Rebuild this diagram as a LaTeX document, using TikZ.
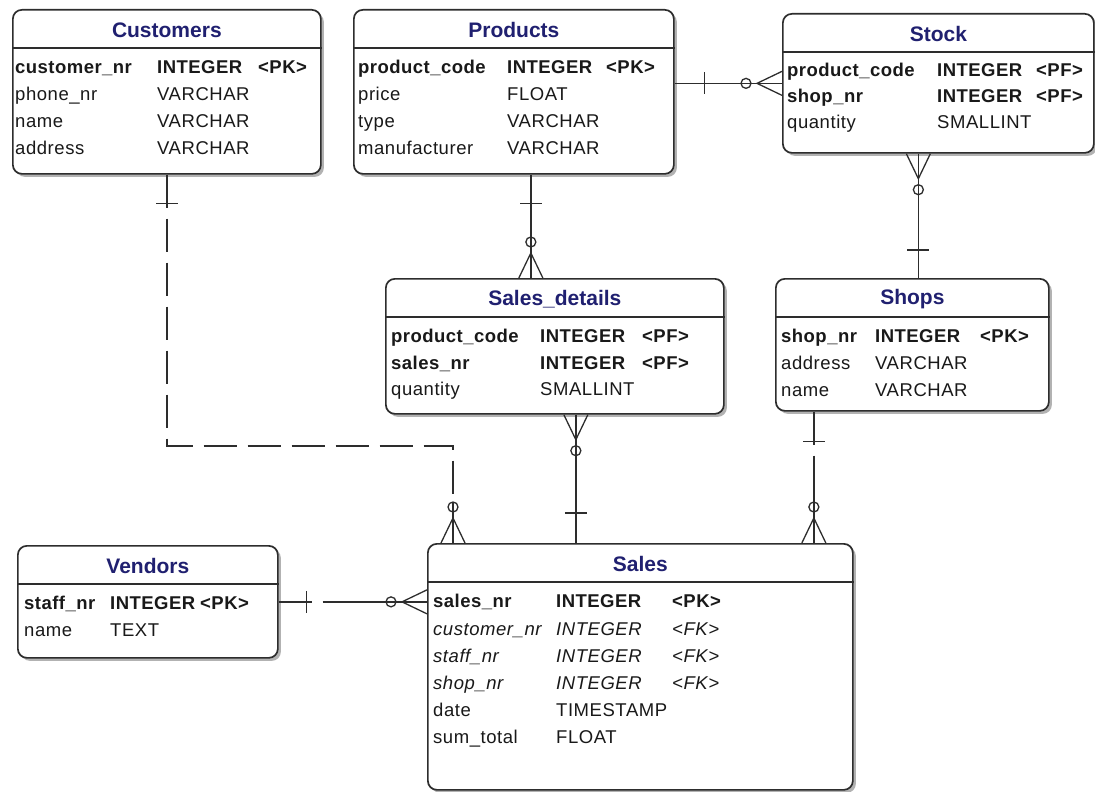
\documentclass[tikz,border=0pt]{standalone}
\usepackage{fontspec}
\setmainfont{Liberation Sans}[LetterSpace=3, BoldFeatures={LetterSpace=2.5}]
\newfontfamily\ttlfont{Liberation Sans}
\usetikzlibrary{shadows,calc}
\definecolor{titleblue}{RGB}{32,32,112}
\definecolor{edgegray}{RGB}{45,45,45}
\definecolor{txt}{RGB}{25,25,25}
\tikzset{
  entity/.style={draw=edgegray, line width=1.7pt, rounded corners=9pt, fill=white, inner sep=0pt, anchor=north west,
    drop shadow={shadow xshift=3pt, shadow yshift=-3pt, fill=black, opacity=0.3}},
  sepline/.style={draw=edgegray, line width=1.4pt},
  ttl/.style={font=\ttlfont\bfseries\fontsize{21}{24}\selectfont, text=titleblue, inner sep=0pt},
  cell/.style={font=\fontsize{18.5}{22}\selectfont, text=txt, inner sep=0pt, anchor=west, text height=12pt, text depth=5pt, yshift=-2pt},
  conn/.style={draw=edgegray, line width=1.3pt},
  nonid/.style={conn, dash pattern=on 33pt off 11pt},
  nonidb/.style={conn, dash pattern=on 33pt off 11pt on 80pt off 11pt},
  crow/.pic={\draw[conn] (0,0) -- (41,0); \draw[conn] (0,-12) -- (25,0) -- (0,12); \draw[conn] (36,0) circle[radius=5pt];},
  onebar/.pic={\draw[conn] (#1,-11) -- (#1,11);},
}
\newcommand\rowiii[8]{%
  \node[cell] (#1a) at (#3,#2) {#6};
  \node[cell] (#1b) at (#4,#2) {#7};
  \node[cell] (#1c) at (#5,#2) {#8};}
\newcommand\rowii[6]{%
  \node[cell] (#1a) at (#3,#2) {#5};
  \node[cell] (#1b) at (#4,#2) {#6};}
\begin{document}
\begin{tikzpicture}[x=1pt,y=-1pt]
\useasboundingbox (0,0) rectangle (1095,792);
% entities
\node[entity, minimum width=308pt, minimum height=164pt] (cust) at (12,9) {};
\node[entity, minimum width=320pt, minimum height=164pt] (prod) at (353,9) {};
\node[entity, minimum width=311pt, minimum height=139pt] (stock) at (782,13) {};
\node[entity, minimum width=338pt, minimum height=135pt] (sd) at (385,278) {};
\node[entity, minimum width=273pt, minimum height=132pt] (shops) at (775,278) {};
\node[entity, minimum width=260pt, minimum height=112pt] (vend) at (17,545) {};
\node[entity, minimum width=425pt, minimum height=246pt] (sales) at (427,543) {};
% header separators
\foreach \e in {cust,prod,stock,sd,shops,vend,sales}{
  \draw[sepline] ([yshift=-39pt]\e.north west) -- ([yshift=-39pt]\e.north east);}
% titles
\node[ttl] (custT) at ([yshift=-21pt]cust.north) {Customers};
\node[ttl] (prodT) at ([yshift=-21pt]prod.north) {Products};
\node[ttl] (stockT) at ([yshift=-21pt]stock.north) {Stock};
\node[ttl] (sdT) at ([yshift=-21pt]sd.north) {Sales\_details};
\node[ttl] (shopsT) at ([yshift=-21pt]shops.north) {Shops};
\node[ttl] (vendT) at ([yshift=-21pt]vend.north) {Vendors};
\node[ttl] (salesT) at ([yshift=-21pt]sales.north) {Sales};
% Customers rows
\rowiii{cu1}{68}{15}{157}{258}{\bfseries customer\_nr}{\bfseries INTEGER}{\bfseries <PK>}
\rowii{cu2}{95}{15}{157}{phone\_nr}{VARCHAR}
\rowii{cu3}{122}{15}{157}{name}{VARCHAR}
\rowii{cu4}{149}{15}{157}{address}{VARCHAR}
% Products rows
\rowiii{pr1}{68}{358}{507}{606}{\bfseries product\_code}{\bfseries INTEGER}{\bfseries <PK>}
\rowii{pr2}{95}{358}{507}{price}{FLOAT}
\rowii{pr3}{122}{358}{507}{type}{VARCHAR}
\rowii{pr4}{149}{358}{507}{manufacturer}{VARCHAR}
% Stock rows
\rowiii{st1}{71}{787}{937}{1036}{\bfseries product\_code}{\bfseries INTEGER}{\bfseries <PF>}
\rowiii{st2}{97}{787}{937}{1036}{\bfseries shop\_nr}{\bfseries INTEGER}{\bfseries <PF>}
\rowii{st3}{123}{787}{937}{quantity}{SMALLINT}
% Sales_details rows
\rowiii{sd1}{337}{391}{540}{642}{\bfseries product\_code}{\bfseries INTEGER}{\bfseries <PF>}
\rowiii{sd2}{364}{391}{540}{642}{\bfseries sales\_nr}{\bfseries INTEGER}{\bfseries <PF>}
\rowii{sd3}{390}{391}{540}{quantity}{SMALLINT}
% Shops rows
\rowiii{sh1}{337}{781}{875}{980}{\bfseries shop\_nr}{\bfseries INTEGER}{\bfseries <PK>}
\rowii{sh2}{364}{781}{875}{address}{VARCHAR}
\rowii{sh3}{391}{781}{875}{name}{VARCHAR}
% Vendors rows
\rowiii{ve1}{604}{24}{110}{200}{\bfseries staff\_nr}{\bfseries INTEGER}{\bfseries <PK>}
\rowii{ve2}{631}{24}{110}{name}{TEXT}
% Sales rows
\rowiii{sa1}{602}{433}{556}{672}{\bfseries sales\_nr}{\bfseries INTEGER}{\bfseries <PK>}
\rowiii{sa2}{630}{433}{556}{672}{\itshape customer\_nr}{\itshape INTEGER}{\itshape <FK>}
\rowiii{sa3}{657}{433}{556}{672}{\itshape staff\_nr}{\itshape INTEGER}{\itshape <FK>}
\rowiii{sa4}{684}{433}{556}{672}{\itshape shop\_nr}{\itshape INTEGER}{\itshape <FK>}
\rowii{sa5}{711}{433}{556}{date}{TIMESTAMP}
\rowii{sa6}{738}{433}{556}{sum\_total}{FLOAT}
% Products -- Stock
\draw[conn] (prod.east |- stock.west) -- (stock.west);
\pic at (prod.east |- stock.west) {onebar=30};
\pic[rotate=180] at (stock.west) {crow};
% Stock -- Shops
\draw[conn] ([xshift=-20pt]stock.south) -- ([xshift=-20pt]stock.south |- shops.north);
\pic[rotate=-90] at ([xshift=-20pt]stock.south) {crow};
\pic[rotate=90] at ([xshift=-20pt]stock.south |- shops.north) {onebar=28};
% Products -- Sales_details
\draw[conn] ([xshift=17pt]prod.south) -- ([xshift=17pt]prod.south |- sd.north);
\pic[rotate=-90] at ([xshift=17pt]prod.south) {onebar=29};
\pic[rotate=90] at ([xshift=17pt]prod.south |- sd.north) {crow};
% Sales_details -- Sales
\draw[conn] ([xshift=21pt]sd.south) -- ([xshift=21pt]sd.south |- sales.north);
\pic[rotate=-90] at ([xshift=21pt]sd.south) {crow};
\pic[rotate=90] at ([xshift=21pt]sd.south |- sales.north) {onebar=30};
% Customers -- Sales (non-identifying)
\draw[nonid] (cust.south) |- ([shift={(26pt,97pt)}]sales.north west) -- ([xshift=26pt]sales.north west);
\pic[rotate=-90] at (cust.south) {onebar=29};
\pic[rotate=90] at ([xshift=26pt]sales.north west) {crow};
% Shops -- Sales (non-identifying)
\draw[nonidb] ([xshift=-98.5pt]shops.south) -- ([xshift=-98.5pt]shops.south |- sales.north);
\pic[rotate=-90] at ([xshift=-98.5pt]shops.south) {onebar=30};
\pic[rotate=90] at ([xshift=-98.5pt]shops.south |- sales.north) {crow};
% Vendors -- Sales (non-identifying)
\draw[nonidb] (vend.east) -- (sales.west |- vend.east);
\pic at (vend.east) {onebar=28};
\pic[rotate=180] at (sales.west |- vend.east) {crow};
\end{tikzpicture}
\end{document}
